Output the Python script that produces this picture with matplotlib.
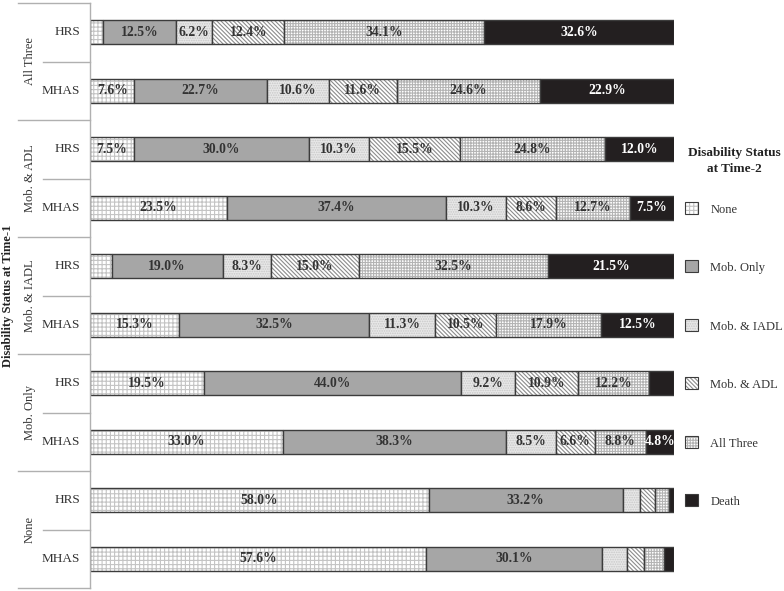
import matplotlib
matplotlib.use('Agg')
import matplotlib.pyplot as plt
from matplotlib.patches import Rectangle
import numpy as np

plt.rcParams['font.family'] = ['Liberation Serif', 'DejaVu Serif']
plt.rcParams['hatch.linewidth'] = 0.8

groups = ['All Three', 'Mob. & ADL', 'Mob. & IADL', 'Mob. Only', 'None']
surveys = ['HRS', 'MHAS']
statuses = ['None', 'Mob. Only', 'Mob. & IADL', 'Mob. & ADL', 'All Three', 'Death']

# percent at time-2, one row per time-1 group
hrs = [
    [2.2, 12.5, 6.2, 12.4, 34.1, 32.6],
    [7.5, 30.0, 10.3, 15.5, 24.8, 12.0],
    [3.7, 19.0, 8.3, 15.0, 32.5, 21.5],
    [19.5, 44.0, 9.2, 10.9, 12.2, 4.2],
    [58.0, 33.2, 3.0, 2.6, 2.3, 0.9],
]
mhas = [
    [7.6, 22.7, 10.6, 11.6, 24.6, 22.9],
    [23.5, 37.4, 10.3, 8.6, 12.7, 7.5],
    [15.3, 32.5, 11.3, 10.5, 17.9, 12.5],
    [33.0, 38.3, 8.5, 6.6, 8.8, 4.8],
    [57.6, 30.1, 4.3, 2.9, 3.4, 1.7],
]

# (facecolor, hatch, hatch colour, text colour)
styles = [
    ('white', '++++', '#c4c4c4', '#333333'),
    ('#a6a6a6', None, '#a6a6a6', '#333333'),
    ('#e8e8e8', '.......', '#c8c8c8', '#333333'),
    ('white', '\\\\\\\\\\\\\\\\', '#8c8c8c', '#333333'),
    ('white', '++++++', '#b4b4b4', '#333333'),
    ('#231f20', None, '#231f20', 'white'),
]
edge = '#3c3c3c'

rows = []
for h, m in zip(hrs, mhas):
    rows.append(h)
    rows.append(m)
rows = np.array(rows)
y = np.arange(len(rows))
bar_h = 0.41

fig = plt.figure(figsize=(7.84, 5.91), dpi=100)
ax = fig.add_axes([90 / 784, 3 / 591, 584 / 784, 585 / 591])

left = np.zeros(len(rows))
for j, st in enumerate(statuses):
    fc, hatch, hc, tc = styles[j]
    vals = rows[:, j]
    ax.barh(y, vals, left=left, height=bar_h, color=fc, hatch=hatch,
            edgecolor=hc, linewidth=0)
    ax.barh(y, vals, left=left, height=bar_h, color='none',
            edgecolor=edge, linewidth=1.0)
    for yi, l, v in zip(y, left, vals):
        if v >= 4.5:
            ax.text(l + v / 2, yi, '%.1f%%' % v, ha='center', va='center',
                    fontsize=9.8, fontweight='bold', color=tc)
    left = left + vals

ax.set_xlim(0, 100)
ax.set_ylim(len(rows) - 0.5, -0.5)
for s in ['top', 'right', 'bottom']:
    ax.spines[s].set_visible(False)
ax.spines['left'].set_color('#b0b0b0')
ax.spines['left'].set_linewidth(1.0)
ax.set_xticks([])
ax.set_yticks([])

tr = ax.get_yaxis_transform()
# separators on the left
for k in range(len(groups) + 1):
    ax.plot([-0.1233, 0], [2 * k - 0.5] * 2, color='#b0b0b0', lw=1,
            transform=tr, clip_on=False)
for k in range(len(groups)):
    ax.plot([-0.0805, 0], [2 * k + 0.5] * 2, color='#b0b0b0', lw=1,
            transform=tr, clip_on=False)
    ax.text(-0.103, 2 * k + 0.5, groups[k], rotation=90, ha='center',
            va='center', fontsize=9, color='#333333', transform=tr)
    for i, sv in enumerate(surveys):
        ax.text(-0.017, 2 * k + i, sv, ha='right', va='center', fontsize=9.5,
                color='#333333', transform=tr)

ax.text(-0.14, 0.5, 'Disability Status at Time-1', rotation=90,
        ha='center', va='center', fontsize=9, fontweight='bold',
        color='#222222', transform=ax.transAxes)

# legend
ax.text(110.4, 2.2, 'Disability Status\nat Time-2', ha='center',
        va='center', fontsize=9.5, fontweight='bold', color='#222222',
        linespacing=1.35)
for j, st in enumerate(statuses):
    fc, hatch, hc, tc = styles[j]
    yy = 3 + j
    ax.add_patch(Rectangle((101.9, yy - 0.105), 2.2, 0.21, facecolor=fc,
                           hatch=hatch, edgecolor=hc, linewidth=0,
                           clip_on=False))
    ax.add_patch(Rectangle((101.9, yy - 0.105), 2.2, 0.21, facecolor='none',
                           edgecolor=edge, linewidth=0.8, clip_on=False))
    ax.text(106.2, yy + 0.03, st, ha='left', va='center', fontsize=9,
            color='#333333')

fig.savefig('out.png', dpi=100)
